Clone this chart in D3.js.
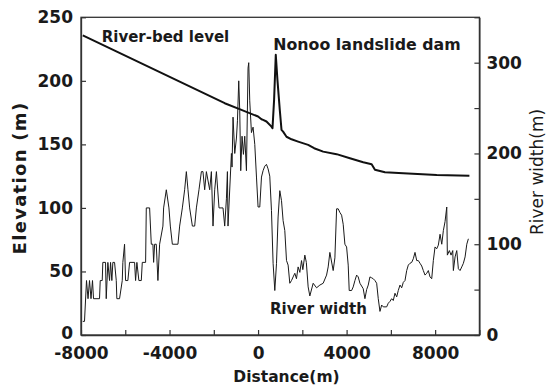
<!DOCTYPE html>
<html>
<head>
<meta charset="utf-8">
<script src="https://cdn.jsdelivr.net/npm/d3@7"></script>
<style>
  html, body { margin: 0; padding: 0; background: #fff; }
  svg { display: block; }
  text { font-family: "DejaVu Sans", sans-serif; fill: #1a1a1a; }
</style>
</head>
<body>
<svg id="chart" width="547" height="387"></svg>
<script>
// ---- Data ----
const bedDistance = [-7920, -1507, -753, 0, 154, 226, 380, 606, 652, 724, 800, 875, 982, 1059, 1131, 1285, 1511, 1810, 2263, 2534, 2941, 3548, 4149, 4751, 5131, 5281, 5733, 6561, 8072, 9548];
const bedElevation = [235.7, 182.4, 177.2, 171.9, 169.8, 169.3, 168, 164, 162.8, 185, 220.5, 200.8, 177, 161.4, 160, 156, 154, 152.2, 149.6, 147, 144.3, 142.3, 139.1, 136, 134.4, 130, 128.1, 127.3, 126, 125.4];

const widthDistance = [-7920,-7842,-7751,-7683,-7615,-7548,-7480,-7434,-7163,-7131,-7041,-7014,-6891,-6860,-6787,-6710,-6665,-6606,-6561,-6484,-6407,-6380,-6258,-6136,-6109,-6032,-5986,-5882,-5805,-5579,-5534,-5475,-5385,-5276,-5231,-5081,-5050,-4900,-4824,-4751,-4719,-4674,-4600,-4525,-4448,-4299,-4267,-4145,-4027,-3964,-3873,-3620,-3543,-3421,-3317,-3240,-3167,-3091,-2968,-2864,-2787,-2670,-2561,-2489,-2412,-2335,-2186,-2109,-2036,-1959,-1882,-1765,-1584,-1507,-1430,-1385,-1358,-1204,-1177,-1131,-1054,-977,-932,-873,-828,-783,-724,-661,-602,-525,-453,-421,-376,-299,-226,-149,-72,0,77,154,226,303,380,453,529,606,679,756,833,905,982,1059,1131,1208,1285,1358,1434,1511,1584,1661,1735,1810,1887,1964,2023,2113,2181,2263,2339,2489,2643,2792,2941,3095,3168,3244,3394,3471,3548,3620,3697,3774,3846,3923,4000,4073,4118,4226,4299,4376,4453,4525,4602,4751,4828,4905,4978,5054,5131,5204,5281,5358,5430,5507,5584,5656,5810,5882,5959,6036,6109,6186,6263,6335,6412,6489,6561,6638,6715,6788,6864,6941,7014,7091,7168,7240,7317,7394,7466,7543,7620,7693,7769,7846,7919,7996,8072,8145,8222,8299,8371,8448,8525,8552,8643,8720,8796,8824,8901,8977,9050,9126,9203,9276,9353,9430,9502];
const widthValue = [15,15,60,40,60,40,60,40,40,60,60,80,80,40,80,60,80,60,80,80,60,40,40,60,80,100,60,60,80,80,60,80,60,60,80,80,140,140,100,100,80,100,100,60,100,120,140,160,140,120,100,100,120,140,160,180,160,140,120,120,140,160,180,180,160,180,160,180,120,160,180,140,140,120,150,180,120,200,185,240,200,217,236,280,247,181,219,199,219,181,294,300,258,223,229,210,174,141,141,174,181,186,188,183,175,137,79,49,79,130,159,148,126,115,82,77,57,60,64,68,62,75,69,82,72,88,80,53,43,57,52,55,57,66,75,91,71,85,139,139,135,132,122,100,97,77,49,49,53,60,66,64,57,51,40,50,55,64,63,62,60,57,40,26,33,31,31,35,37,40,38,46,42,49,55,52,58,60,71,77,79,80,84,91,82,82,79,76,71,66,68,71,64,62,82,97,95,99,111,100,115,125,141,88,93,88,93,71,86,93,73,71,75,79,86,100,106];

const xTicks = [-8000, -6000, -4000, -2000, 0, 2000, 4000, 6000, 8000, 10000];
const xLabels = [-8000, -4000, 0, 4000, 8000];
const leftTicks = [0, 50, 100, 150, 200, 250];
const rightTicks = [0, 50, 100, 150, 200, 250, 300, 350];
const rightLabels = [0, 100, 200, 300];

// ---- Layout ----
const L = 81, R = 479.4, T = 17.3, B = 335;
const svg = d3.select("#chart");

const x = d3.scaleLinear().domain([-8000, 10000]).range([L, R]);
const yL = d3.scaleLinear().domain([0, 250]).range([B, T]);
const yR = d3.scaleLinear().domain([0, 350]).range([B, T]);

// frame
svg.append("rect").attr("x", L).attr("y", T).attr("width", R - L).attr("height", B - T)
  .attr("fill", "none").attr("stroke", "#333").attr("stroke-width", 1.3);

function styleAxis(g, size) {
  g.select(".domain").attr("stroke", "#333").attr("stroke-width", 1.3);
  g.selectAll(".tick line").attr("stroke", "#333").attr("stroke-width", 1.2);
  g.selectAll(".tick text").attr("font-family", "DejaVu Sans, sans-serif")
    .attr("font-weight", "bold").attr("font-size", size).attr("fill", "#1a1a1a");
}

const gx = svg.append("g").attr("transform", `translate(0,${B})`)
  .call(d3.axisBottom(x).tickValues(xTicks).tickSizeInner(-5).tickSizeOuter(0).tickPadding(12)
    .tickFormat(d => xLabels.includes(d) ? String(d) : ""));
styleAxis(gx, 17);

const gl = svg.append("g").attr("transform", `translate(${L},0)`)
  .call(d3.axisLeft(yL).tickValues(leftTicks).tickSizeInner(-5).tickSizeOuter(0).tickPadding(8)
    .tickFormat(d => String(d)));
styleAxis(gl, 17);
gl.selectAll(".tick text").filter(d => d === 0).attr("dy", "0.2em");

const gr = svg.append("g").attr("transform", `translate(${R},0)`)
  .call(d3.axisRight(yR).tickValues(rightTicks).tickSizeInner(-5).tickSizeOuter(0).tickPadding(7)
    .tickFormat(d => rightLabels.includes(d) ? String(d) : ""));
styleAxis(gr, 17);

// lines
const widthData = widthDistance.map((d, i) => [d, widthValue[i]]);
const bedData = bedDistance.map((d, i) => [d, bedElevation[i]]);

svg.append("path").datum(widthData)
  .attr("fill", "none").attr("stroke", "#1a1a1a").attr("stroke-width", 1)
  .attr("stroke-linejoin", "round")
  .attr("d", d3.line().x(d => x(d[0])).y(d => yR(d[1])));

svg.append("path").datum(bedData)
  .attr("fill", "none").attr("stroke", "#111").attr("stroke-width", 2)
  .attr("stroke-linejoin", "round")
  .attr("d", d3.line().x(d => x(d[0])).y(d => yL(d[1])));

// annotations
svg.append("text").attr("x", 101.7).attr("y", 41.7).attr("font-weight", "bold").attr("font-size", 15)
  .text("River-bed level");
svg.append("text").attr("x", 273.3).attr("y", 50).attr("font-weight", "bold").attr("font-size", 15.8)
  .text("Nonoo landslide dam");
svg.append("text").attr("x", 270).attr("y", 313.5).attr("font-weight", "bold").attr("font-size", 15)
  .text("River width");

// axis titles
svg.append("text").attr("x", 286.5).attr("y", 382).attr("text-anchor", "middle")
  .attr("font-weight", "bold").attr("font-size", 15.5).text("Distance(m)");
svg.append("text").attr("transform", "translate(25.5,178) rotate(-90)").attr("text-anchor", "middle")
  .attr("font-weight", "bold").attr("font-size", 18).attr("letter-spacing", 1.3).text("Elevation (m)");
svg.append("text").attr("transform", "translate(543,172) rotate(-90)").attr("text-anchor", "middle")
  .attr("font-size", 17).text("River width(m)");
</script>
</body>
</html>
